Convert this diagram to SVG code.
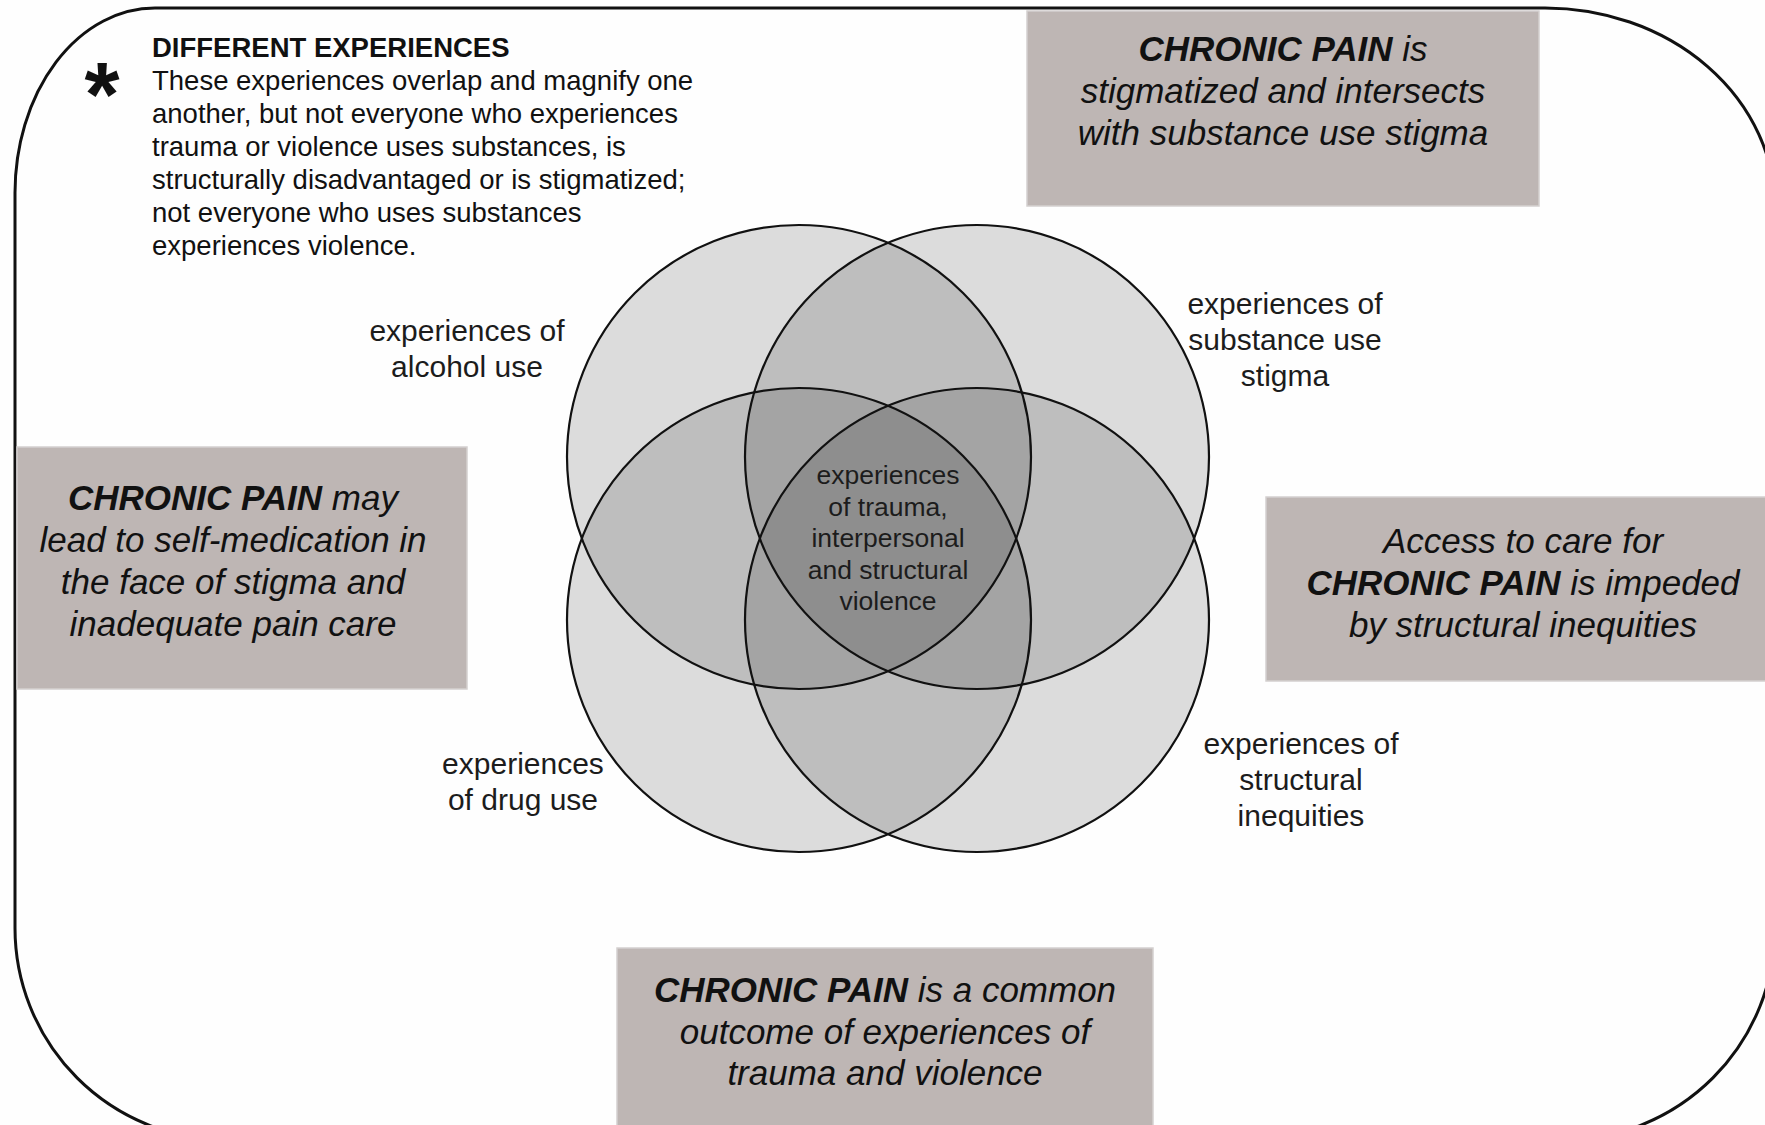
<svg xmlns="http://www.w3.org/2000/svg" width="1765" height="1125" viewBox="0 0 1765 1125">
  <style>
    text { font-family: "Liberation Sans", Arial, sans-serif; }
    .frame { fill: none; stroke: #111; stroke-width: 3; }
    .cfill { fill: #000; fill-opacity: 0.135; stroke: none; }
    .cline { fill: none; stroke: #111; stroke-width: 2.2; }
    .box { fill: #beb6b4; stroke: #d4d0cf; stroke-width: 1.5; }
    .boxt { font-size: 35px; font-style: italic; fill: #111; text-anchor: middle; }
    .b { font-weight: bold; }
    .lbl { font-size: 30px; fill: #1c1c1c; text-anchor: middle; }
    .ctr { font-size: 26.5px; fill: #1c1c1c; text-anchor: middle; }
    .note { font-size: 27.5px; fill: #111; }
  </style>
  <rect width="1765" height="1125" fill="#fefefe"/>
  <path class="frame" d="M 15 193 A 140 185 0 0 1 155 8 L 1545 8 A 230 200 0 0 1 1775 208 L 1775 928 A 212 212 0 0 1 1563 1140 L 227 1140 A 212 212 0 0 1 15 928 Z"/>

  <g id="note">
    <text x="102" y="126" font-size="90" font-weight="bold" text-anchor="middle" fill="#111">*</text>
    <text class="note" x="152" y="57" font-weight="bold">DIFFERENT EXPERIENCES</text>
    <text class="note" x="152" y="90">These experiences overlap and magnify one</text>
    <text class="note" x="152" y="123">another, but not everyone who experiences</text>
    <text class="note" x="152" y="156">trauma or violence uses substances, is</text>
    <text class="note" x="152" y="189">structurally disadvantaged or is stigmatized;</text>
    <text class="note" x="152" y="222">not everyone who uses substances</text>
    <text class="note" x="152" y="255">experiences violence.</text>
  </g>

  <g id="venn">
    <g id="circle-alcohol"><circle class="cfill" cx="799" cy="457" r="232"/></g>
    <g id="circle-stigma"><circle class="cfill" cx="977" cy="457" r="232"/></g>
    <g id="circle-drug"><circle class="cfill" cx="799" cy="620" r="232"/></g>
    <g id="circle-structural"><circle class="cfill" cx="977" cy="620" r="232"/></g>
    <circle class="cline" cx="799" cy="457" r="232"/>
    <circle class="cline" cx="977" cy="457" r="232"/>
    <circle class="cline" cx="799" cy="620" r="232"/>
    <circle class="cline" cx="977" cy="620" r="232"/>
  </g>

  <g id="center-label">
    <text class="ctr" x="888" y="484">experiences</text>
    <text class="ctr" x="888" y="515.5">of trauma,</text>
    <text class="ctr" x="888" y="547">interpersonal</text>
    <text class="ctr" x="888" y="578.5">and structural</text>
    <text class="ctr" x="888" y="610">violence</text>
  </g>

  <g id="label-alcohol">
    <text class="lbl" x="467" y="341">experiences of</text>
    <text class="lbl" x="467" y="377">alcohol use</text>
  </g>
  <g id="label-stigma">
    <text class="lbl" x="1285" y="314">experiences of</text>
    <text class="lbl" x="1285" y="350">substance use</text>
    <text class="lbl" x="1285" y="386">stigma</text>
  </g>
  <g id="label-drug">
    <text class="lbl" x="523" y="774">experiences</text>
    <text class="lbl" x="523" y="810">of drug use</text>
  </g>
  <g id="label-structural">
    <text class="lbl" x="1301" y="754">experiences of</text>
    <text class="lbl" x="1301" y="790">structural</text>
    <text class="lbl" x="1301" y="826">inequities</text>
  </g>

  <g id="box-stigmatized">
    <rect class="box" x="1027" y="11" width="512" height="195"/>
    <text class="boxt" x="1283" y="61"><tspan class="b">CHRONIC PAIN</tspan> is</text>
    <text class="boxt" x="1283" y="103">stigmatized and intersects</text>
    <text class="boxt" x="1283" y="145">with substance use stigma</text>
  </g>
  <g id="box-self-medication">
    <rect class="box" x="17" y="447" width="450" height="242"/>
    <text class="boxt" x="233" y="510"><tspan class="b">CHRONIC PAIN</tspan> may</text>
    <text class="boxt" x="233" y="552">lead to self-medication in</text>
    <text class="boxt" x="233" y="594">the face of stigma and</text>
    <text class="boxt" x="233" y="636">inadequate pain care</text>
  </g>
  <g id="box-access">
    <rect class="box" x="1266" y="497" width="520" height="184"/>
    <text class="boxt" x="1523" y="553">Access to care for</text>
    <text class="boxt" x="1523" y="595"><tspan class="b">CHRONIC PAIN</tspan> is impeded</text>
    <text class="boxt" x="1523" y="637">by structural inequities</text>
  </g>
  <g id="box-outcome">
    <rect class="box" x="617" y="948" width="536" height="190"/>
    <text class="boxt" x="885" y="1002"><tspan class="b">CHRONIC PAIN</tspan> is a common</text>
    <text class="boxt" x="885" y="1044">outcome of experiences of</text>
    <text class="boxt" x="885" y="1085">trauma and violence</text>
  </g>

  <g id="connectors"></g>
</svg>
